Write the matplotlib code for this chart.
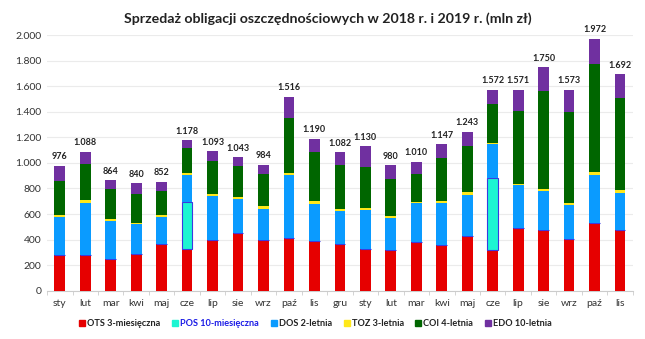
import matplotlib
matplotlib.use("Agg")
import matplotlib.pyplot as plt
from matplotlib.lines import Line2D
import numpy as np

plt.rcParams['font.family'] = ['Lato', 'DejaVu Sans']

months = ["sty", "lut", "mar", "kwi", "maj", "cze", "lip", "sie", "wrz", "paź", "lis", "gru",
          "sty", "lut", "mar", "kwi", "maj", "cze", "lip", "sie", "wrz", "paź", "lis"]
ots = [278, 280, 247, 284, 364, 328, 396, 448, 396, 412, 386, 364,
       326, 320, 382, 359, 427, 317, 489, 474, 401, 529, 474]
pos = [0, 0, 0, 0, 0, 366, 0, 0, 0, 0, 0, 0,
       0, 0, 0, 0, 0, 562, 0, 0, 0, 0, 0]
dos = [300, 407, 299, 239, 213, 214, 345, 273, 247, 496, 296, 261,
       309, 252, 302, 330, 325, 265, 338, 306, 273, 379, 294]
toz = [12, 20, 13, 10, 13, 12, 13, 12, 18, 12, 21, 13,
       11, 13, 10, 13, 18, 13, 11, 13, 13, 17, 16]
coi = [266, 281, 234, 227, 190, 195, 264, 243, 255, 431, 383, 342,
       321, 286, 222, 335, 361, 304, 565, 773, 711, 851, 724]
totals = [976, 1088, 864, 840, 852, 1178, 1093, 1043, 984, 1516, 1190, 1082,
          1130, 980, 1010, 1147, 1243, 1572, 1571, 1750, 1573, 1972, 1692]
edo = [t - a - b - c - d - e for t, a, b, c, d, e in zip(totals, ots, pos, dos, toz, coi)]

series_names = ["OTS 3-miesięczna", "POS 10-miesięczna", "DOS 2-letnia",
                "TOZ 3-letnia", "COI 4-letnia", "EDO 10-letnia"]
colors = ["#E60000", "#1CF5D2", "#0A9BFF", "#FFE81A", "#006600", "#7030A0"]

fig = plt.figure(figsize=(6.45, 3.39), dpi=100)
ax = fig.add_axes([0.073, 0.1425, 0.908, 0.754])

x = np.arange(len(months))
bottom = np.zeros(len(months))
for name, vals, col in zip(series_names, [ots, pos, dos, toz, coi, edo], colors):
    vals = np.array(vals, dtype=float)
    is_pos = name.startswith("POS")
    ax.bar(x, vals, 0.42, bottom=bottom, color=col,
           edgecolor="#3A3AE0" if is_pos else "none",
           linewidth=0.8 if is_pos else 0, zorder=3)
    bottom += vals

for xi, t in zip(x, totals):
    lab = f"{t:,}".replace(",", ".")
    ax.text(xi, t + 35, lab, ha="center", va="bottom", fontsize=6.5, fontweight="bold", color="#222222")

ax.set_xlim(-0.5, len(months) - 0.5)
ax.set_ylim(0, 2000)
ax.set_yticks(np.arange(0, 2001, 200))
ax.set_yticklabels([f"{v:,}".replace(",", ".") for v in range(0, 2001, 200)], fontsize=7.5, color="#333333")
ax.set_xticks(x)
ax.set_xticklabels(months, fontsize=7.5, color="#333333")
ax.set_xticks(np.arange(-0.5, len(months), 1), minor=True)
ax.tick_params(axis="x", which="major", length=0, pad=6)
ax.tick_params(axis="x", which="minor", length=3, color="#CCCCCC")
ax.tick_params(axis="y", length=0, pad=4)
ax.grid(axis="y", color="#EBEBEB", linewidth=0.8, zorder=0)
for s in ["top", "right", "left"]:
    ax.spines[s].set_visible(False)
ax.spines["bottom"].set_color("#CCCCCC")

fig.text(0.509, 0.945, "Sprzedaż obligacji oszczędnościowych w 2018 r. i 2019 r. (mln zł)",
         ha="center", va="center", fontsize=10.2, fontweight="bold", color="#222222")

handles = [Line2D([0], [0], marker="s", linestyle="none", markersize=4.5, markerfacecolor=c,
                  markeredgecolor=c) for c in colors]
leg = fig.legend(handles, series_names, loc="center", bbox_to_anchor=(0.488, 0.045), ncol=6,
                 frameon=False, fontsize=6.6, handletextpad=0.05, columnspacing=1.1, handlelength=1.0)
for txt in leg.get_texts():
    txt.set_fontweight("bold")
    txt.set_color("#222222")
leg.get_texts()[1].set_color("#1A1AE6")

fig.savefig("out.png", dpi=100)
